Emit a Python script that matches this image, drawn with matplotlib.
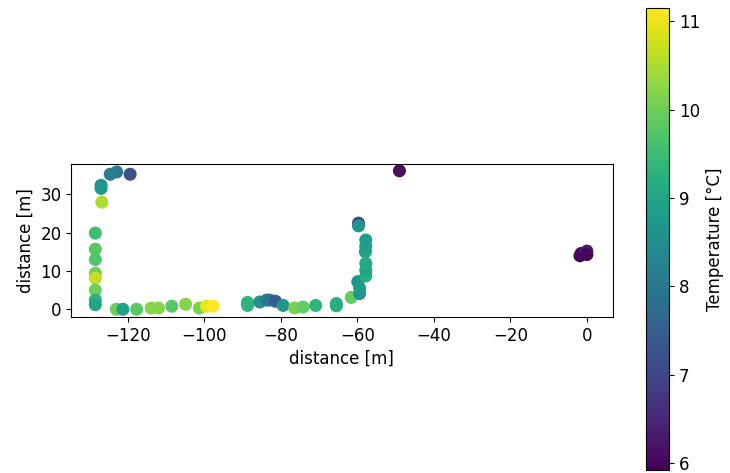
import numpy as np
import matplotlib
matplotlib.use('Agg')
import matplotlib.pyplot as plt

# positions of the measurements [m]
x = [-119.4, -122.9, -124.6, -127.0, -127.0, -126.8,
     -128.5, -128.5, -128.5, -128.5, -128.5, -128.5, -128.5, -128.5,
     -123.0, -121.3, -117.7, -113.9, -112.0, -108.5, -104.9, -101.3, -99.4, -97.7,
     -88.7, -88.7, -85.5, -83.7, -82.9, -81.4, -79.4, -76.4, -74.2, -70.9,
     -65.5, -65.5, -61.6,
     -59.4, -59.4, -59.9, -57.8, -57.8, -57.8, -57.9, -57.8, -57.8, -59.7, -59.7,
     -49.0,
     -1.8, -1.5, 0.0, 0.0]
y = [35.3, 35.9, 35.3, 32.4, 31.6, 28.0,
     19.9, 15.7, 13.0, 9.4, 8.1, 5.0, 2.4, 1.2,
     0.0, 0.0, 0.0, 0.3, 0.3, 0.8, 1.3, 0.3, 0.8, 0.8,
     1.8, 1.0, 1.9, 2.4, 2.4, 2.1, 1.0, 0.35, 0.6, 1.0,
     1.5, 0.9, 3.1,
     4.1, 5.5, 7.2, 8.7, 10.2, 12.0, 15.0, 16.4, 18.1, 22.5, 21.8,
     36.2,
     14.0, 14.6, 15.2, 14.3]
# temperature [degC]
temp = [7.2, 8.0, 8.1, 8.6, 8.7, 10.5,
        9.5, 9.8, 9.7, 10.0, 10.7, 10.0, 9.3, 9.0,
        10.0, 8.9, 9.8, 10.2, 10.2, 9.8, 10.2, 10.1, 11.0, 11.15,
        9.4, 9.3, 8.6, 8.1, 8.0, 7.4, 8.7, 10.1, 9.9, 9.3,
        9.2, 9.2, 9.9,
        8.6, 8.8, 8.7, 9.2, 9.0, 9.1, 9.0, 8.9, 8.8, 7.0, 8.6,
        6.1,
        5.92, 6.1, 6.3, 6.0]

plt.rcParams['font.size'] = 12

fig = plt.figure(figsize=(7.3, 4.73), dpi=100)
ax = fig.add_axes([0.0973, 0.330, 0.742, 0.3235])
sc = ax.scatter(x, y, c=temp, s=70, cmap='viridis')
ax.set_xlim(-134.8, 6.7)
ax.set_ylim(-2.0, 38.0)
ax.set_aspect('equal')
ax.set_xlabel('distance [m]')
ax.set_ylabel('distance [m]')
ax.set_xticks([-120, -100, -80, -60, -40, -20, 0])
ax.set_yticks([0, 10, 20, 30])

cax = fig.add_axes([0.885, 0.0063, 0.0315, 0.977])
cb = fig.colorbar(sc, cax=cax)
cb.set_label('Temperature [°C]')

fig.savefig('out.png', dpi=100)
